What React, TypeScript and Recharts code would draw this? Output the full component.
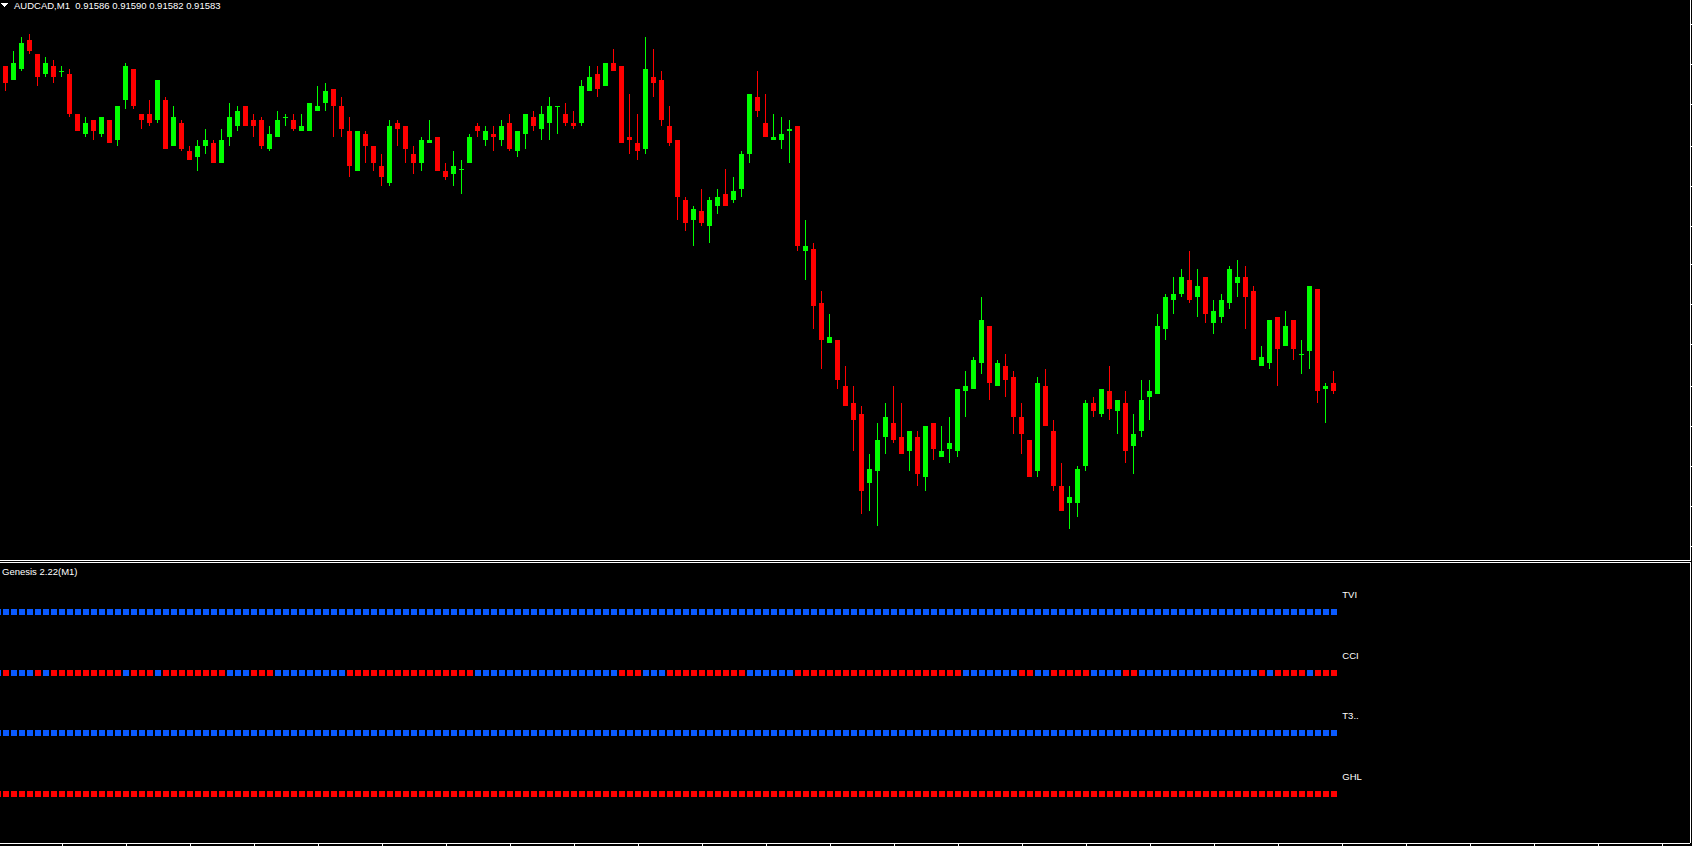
import React from 'react';
import { ComposedChart, Bar, Scatter, XAxis, YAxis } from 'recharts';

// ---- price data (AUDCAD M1), first bar index = -1 ----
const FIRST_INDEX = -1;
const OPEN = [
  0.91692, 0.91697, 0.91692, 0.91696, 0.91706, 0.91701, 0.91694, 0.91697, 0.91695, 0.91694,
  0.91680, 0.91673, 0.91678, 0.91673, 0.91678, 0.91671, 0.91685, 0.91696, 0.91680, 0.91680,
  0.91678, 0.91685, 0.91669, 0.91677, 0.91667, 0.91665, 0.91669, 0.91670, 0.91663, 0.91672,
  0.91676, 0.91683, 0.91678, 0.91678, 0.91668, 0.91672, 0.91679, 0.91678, 0.91674, 0.91674,
  0.91681, 0.91684, 0.91689, 0.91683, 0.91674, 0.91660, 0.91673, 0.91669, 0.91662, 0.91656,
  0.91677, 0.91676, 0.91666, 0.91663, 0.91670, 0.91672, 0.91660, 0.91659, 0.91661, 0.91663,
  0.91676, 0.91671, 0.91673, 0.91671, 0.91677, 0.91667, 0.91673, 0.91679, 0.91675, 0.91677,
  0.91683, 0.91680, 0.91677, 0.91677, 0.91688, 0.91694, 0.91690, 0.91698, 0.91697, 0.91672,
  0.91670, 0.91668, 0.91693, 0.91692, 0.91676, 0.91671, 0.91650, 0.91643, 0.91646, 0.91641,
  0.91648, 0.91652, 0.91650, 0.91654, 0.91666, 0.91686, 0.91677, 0.91671, 0.91671, 0.91674,
  0.91676, 0.91632, 0.91633, 0.91614, 0.91600, 0.91601, 0.91585, 0.91579, 0.91575, 0.91551,
  0.91555, 0.91567, 0.91572, 0.91567, 0.91562, 0.91567, 0.91553, 0.91572, 0.91560, 0.91563,
  0.91562, 0.91583, 0.91584, 0.91593, 0.91606, 0.91585, 0.91592, 0.91588, 0.91574, 0.91566,
  0.91555, 0.91585, 0.91569, 0.91550, 0.91544, 0.91544, 0.91557, 0.91579, 0.91575, 0.91583,
  0.91576, 0.91579, 0.91564, 0.91569, 0.91581, 0.91582, 0.91605, 0.91615, 0.91617, 0.91622,
  0.91616, 0.91623, 0.91607, 0.91609, 0.91614, 0.91621, 0.91623, 0.91618, 0.91592, 0.91593,
  0.91609, 0.91599, 0.91608, 0.91596, 0.91597, 0.91619, 0.91584, 0.91586,
];
const HIGH = [
  0.91698, 0.91697, 0.91702, 0.91707, 0.91708, 0.91701, 0.91700, 0.91699, 0.91697, 0.91696,
  0.91680, 0.91679, 0.91678, 0.91679, 0.91678, 0.91683, 0.91698, 0.91696, 0.91680, 0.91685,
  0.91692, 0.91686, 0.91683, 0.91678, 0.91669, 0.91671, 0.91675, 0.91671, 0.91675, 0.91684,
  0.91683, 0.91683, 0.91680, 0.91679, 0.91676, 0.91681, 0.91680, 0.91680, 0.91680, 0.91684,
  0.91690, 0.91691, 0.91689, 0.91686, 0.91679, 0.91674, 0.91674, 0.91669, 0.91666, 0.91678,
  0.91678, 0.91676, 0.91669, 0.91672, 0.91678, 0.91672, 0.91663, 0.91667, 0.91664, 0.91673,
  0.91677, 0.91676, 0.91676, 0.91678, 0.91680, 0.91674, 0.91680, 0.91681, 0.91683, 0.91686,
  0.91683, 0.91684, 0.91681, 0.91692, 0.91697, 0.91697, 0.91698, 0.91703, 0.91697, 0.91687,
  0.91680, 0.91707, 0.91703, 0.91695, 0.91683, 0.91671, 0.91651, 0.91648, 0.91654, 0.91651,
  0.91654, 0.91661, 0.91658, 0.91667, 0.91687, 0.91695, 0.91687, 0.91680, 0.91679, 0.91678,
  0.91676, 0.91643, 0.91635, 0.91618, 0.91610, 0.91601, 0.91592, 0.91585, 0.91578, 0.91561,
  0.91572, 0.91579, 0.91585, 0.91579, 0.91569, 0.91569, 0.91571, 0.91572, 0.91571, 0.91574,
  0.91584, 0.91590, 0.91595, 0.91616, 0.91606, 0.91594, 0.91596, 0.91590, 0.91579, 0.91566,
  0.91588, 0.91591, 0.91573, 0.91558, 0.91550, 0.91557, 0.91580, 0.91581, 0.91584, 0.91592,
  0.91580, 0.91583, 0.91575, 0.91587, 0.91587, 0.91610, 0.91617, 0.91623, 0.91626, 0.91632,
  0.91626, 0.91623, 0.91615, 0.91617, 0.91627, 0.91629, 0.91627, 0.91620, 0.91599, 0.91608,
  0.91609, 0.91611, 0.91608, 0.91601, 0.91620, 0.91619, 0.91586, 0.91590,
];
const LOW = [
  0.91692, 0.91688, 0.91692, 0.91695, 0.91701, 0.91690, 0.91693, 0.91691, 0.91693, 0.91679,
  0.91674, 0.91672, 0.91671, 0.91672, 0.91670, 0.91669, 0.91682, 0.91682, 0.91675, 0.91676,
  0.91677, 0.91668, 0.91669, 0.91667, 0.91664, 0.91660, 0.91666, 0.91663, 0.91663, 0.91669,
  0.91674, 0.91676, 0.91672, 0.91668, 0.91667, 0.91672, 0.91676, 0.91674, 0.91674, 0.91674,
  0.91681, 0.91681, 0.91672, 0.91672, 0.91658, 0.91660, 0.91663, 0.91660, 0.91655, 0.91655,
  0.91669, 0.91663, 0.91659, 0.91660, 0.91670, 0.91660, 0.91657, 0.91655, 0.91652, 0.91663,
  0.91672, 0.91669, 0.91667, 0.91669, 0.91667, 0.91665, 0.91668, 0.91674, 0.91671, 0.91671,
  0.91673, 0.91676, 0.91675, 0.91676, 0.91688, 0.91686, 0.91690, 0.91695, 0.91670, 0.91666,
  0.91664, 0.91666, 0.91686, 0.91676, 0.91669, 0.91643, 0.91639, 0.91634, 0.91641, 0.91635,
  0.91645, 0.91648, 0.91649, 0.91651, 0.91663, 0.91679, 0.91672, 0.91671, 0.91668, 0.91663,
  0.91632, 0.91622, 0.91605, 0.91591, 0.91600, 0.91584, 0.91578, 0.91562, 0.91540, 0.91541,
  0.91536, 0.91561, 0.91565, 0.91561, 0.91555, 0.91550, 0.91548, 0.91559, 0.91560, 0.91558,
  0.91560, 0.91574, 0.91584, 0.91589, 0.91580, 0.91585, 0.91581, 0.91568, 0.91561, 0.91553,
  0.91553, 0.91571, 0.91548, 0.91541, 0.91535, 0.91539, 0.91555, 0.91574, 0.91574, 0.91573,
  0.91568, 0.91558, 0.91554, 0.91567, 0.91573, 0.91582, 0.91601, 0.91610, 0.91616, 0.91614,
  0.91609, 0.91607, 0.91603, 0.91607, 0.91612, 0.91616, 0.91605, 0.91594, 0.91592, 0.91591,
  0.91585, 0.91599, 0.91594, 0.91589, 0.91591, 0.91579, 0.91572, 0.91582,
];
const CLOSE = [
  0.91698, 0.91691, 0.91698, 0.91705, 0.91702, 0.91693, 0.91698, 0.91693, 0.91695, 0.91680,
  0.91674, 0.91677, 0.91674, 0.91679, 0.91670, 0.91683, 0.91697, 0.91683, 0.91678, 0.91677,
  0.91692, 0.91668, 0.91679, 0.91668, 0.91664, 0.91669, 0.91671, 0.91663, 0.91671, 0.91679,
  0.91681, 0.91676, 0.91676, 0.91669, 0.91673, 0.91678, 0.91679, 0.91675, 0.91676, 0.91684,
  0.91683, 0.91688, 0.91683, 0.91675, 0.91662, 0.91674, 0.91669, 0.91663, 0.91658, 0.91676,
  0.91675, 0.91668, 0.91663, 0.91671, 0.91671, 0.91660, 0.91658, 0.91662, 0.91661, 0.91672,
  0.91674, 0.91674, 0.91672, 0.91676, 0.91668, 0.91674, 0.91680, 0.91676, 0.91680, 0.91683,
  0.91683, 0.91677, 0.91676, 0.91690, 0.91693, 0.91689, 0.91698, 0.91695, 0.91670, 0.91671,
  0.91667, 0.91696, 0.91691, 0.91678, 0.91670, 0.91651, 0.91642, 0.91647, 0.91642, 0.91650,
  0.91651, 0.91648, 0.91653, 0.91666, 0.91687, 0.91681, 0.91672, 0.91672, 0.91673, 0.91675,
  0.91634, 0.91634, 0.91613, 0.91601, 0.91602, 0.91587, 0.91578, 0.91573, 0.91548, 0.91556,
  0.91566, 0.91574, 0.91566, 0.91561, 0.91569, 0.91554, 0.91571, 0.91563, 0.91562, 0.91565,
  0.91584, 0.91585, 0.91594, 0.91608, 0.91586, 0.91593, 0.91587, 0.91574, 0.91568, 0.91553,
  0.91586, 0.91571, 0.91550, 0.91541, 0.91546, 0.91556, 0.91579, 0.91576, 0.91584, 0.91577,
  0.91580, 0.91562, 0.91568, 0.91580, 0.91583, 0.91606, 0.91616, 0.91617, 0.91623, 0.91615,
  0.91620, 0.91610, 0.91611, 0.91615, 0.91626, 0.91623, 0.91616, 0.91594, 0.91595, 0.91608,
  0.91598, 0.91606, 0.91598, 0.91596, 0.91620, 0.91583, 0.91585, 0.91583,
];

// ---- Genesis indicator signals (1 = up/blue, -1 = down/red) ----
const TVI = [
  1, 1, 1, 1, 1, 1, 1, 1, 1, 1, 1, 1, 1, 1, 1, 1, 1, 1, 1, 1, 1, 1, 1, 1,
  1, 1, 1, 1, 1, 1, 1, 1, 1, 1, 1, 1, 1, 1, 1, 1, 1, 1, 1, 1, 1, 1, 1, 1,
  1, 1, 1, 1, 1, 1, 1, 1, 1, 1, 1, 1, 1, 1, 1, 1, 1, 1, 1, 1, 1, 1, 1, 1,
  1, 1, 1, 1, 1, 1, 1, 1, 1, 1, 1, 1, 1, 1, 1, 1, 1, 1, 1, 1, 1, 1, 1, 1,
  1, 1, 1, 1, 1, 1, 1, 1, 1, 1, 1, 1, 1, 1, 1, 1, 1, 1, 1, 1, 1, 1, 1, 1,
  1, 1, 1, 1, 1, 1, 1, 1, 1, 1, 1, 1, 1, 1, 1, 1, 1, 1, 1, 1, 1, 1, 1, 1,
  1, 1, 1, 1, 1, 1, 1, 1, 1, 1, 1, 1, 1, 1, 1, 1, 1, 1, 1, 1, 1, 1, 1, 1,
];
const CCI = [
  1, -1, 1, 1, 1, -1, 1, -1, -1, -1, -1, -1, -1, -1, -1, -1, 1, -1, -1, -1, 1,
  -1, -1, -1, -1, -1, -1, -1, -1, 1, 1, 1, -1, -1, -1, 1, 1, 1, 1, 1, 1, 1, 1, 1,
  -1, -1, -1, -1, -1, -1, -1, -1, -1, -1, -1, -1, -1, -1, -1, -1,
  1, 1, 1, 1, 1, 1, 1, 1, 1, 1, 1, 1, 1, 1, 1, 1, 1, 1,
  -1, -1, -1, 1, 1, 1,
  -1, -1, -1, -1, -1, -1, -1, -1, -1, -1,
  1, 1, 1, 1, 1, 1,
  -1, -1, -1, -1, -1, -1, -1, -1, -1, -1, -1, -1, -1, -1, -1, -1, -1, -1, -1, -1, -1,
  1, 1, 1, 1, 1, 1, 1, -1, -1, 1, 1, -1, -1, -1, -1, -1, 1, 1, 1, 1, -1, -1,
  1, 1, 1, 1, 1, 1, 1, 1, 1, 1, 1, 1, 1, 1, 1,
  -1, 1, -1, -1, -1, -1, 1, -1, -1, -1,
];
const T3 = [
  1, 1, 1, 1, 1, 1, 1, 1, 1, 1, 1, 1, 1, 1, 1, 1, 1, 1, 1, 1, 1, 1, 1, 1,
  1, 1, 1, 1, 1, 1, 1, 1, 1, 1, 1, 1, 1, 1, 1, 1, 1, 1, 1, 1, 1, 1, 1, 1,
  1, 1, 1, 1, 1, 1, 1, 1, 1, 1, 1, 1, 1, 1, 1, 1, 1, 1, 1, 1, 1, 1, 1, 1,
  1, 1, 1, 1, 1, 1, 1, 1, 1, 1, 1, 1, 1, 1, 1, 1, 1, 1, 1, 1, 1, 1, 1, 1,
  1, 1, 1, 1, 1, 1, 1, 1, 1, 1, 1, 1, 1, 1, 1, 1, 1, 1, 1, 1, 1, 1, 1, 1,
  1, 1, 1, 1, 1, 1, 1, 1, 1, 1, 1, 1, 1, 1, 1, 1, 1, 1, 1, 1, 1, 1, 1, 1,
  1, 1, 1, 1, 1, 1, 1, 1, 1, 1, 1, 1, 1, 1, 1, 1, 1, 1, 1, 1, 1, 1, 1, 1,
];
const GHL = [
  -1, -1, -1, -1, -1, -1, -1, -1, -1, -1, -1, -1, -1, -1, -1, -1, -1, -1, -1, -1, -1, -1, -1, -1,
  -1, -1, -1, -1, -1, -1, -1, -1, -1, -1, -1, -1, -1, -1, -1, -1, -1, -1, -1, -1, -1, -1, -1, -1,
  -1, -1, -1, -1, -1, -1, -1, -1, -1, -1, -1, -1, -1, -1, -1, -1, -1, -1, -1, -1, -1, -1, -1, -1,
  -1, -1, -1, -1, -1, -1, -1, -1, -1, -1, -1, -1, -1, -1, -1, -1, -1, -1, -1, -1, -1, -1, -1, -1,
  -1, -1, -1, -1, -1, -1, -1, -1, -1, -1, -1, -1, -1, -1, -1, -1, -1, -1, -1, -1, -1, -1, -1, -1,
  -1, -1, -1, -1, -1, -1, -1, -1, -1, -1, -1, -1, -1, -1, -1, -1, -1, -1, -1, -1, -1, -1, -1, -1,
  -1, -1, -1, -1, -1, -1, -1, -1, -1, -1, -1, -1, -1, -1, -1, -1, -1, -1, -1, -1, -1, -1, -1, -1,
];
const ROW_NAMES = ['TVI', 'CCI', 'T3..', 'GHL'];
const ROW_LEVELS = [4, 3, 2, 1];
const LABEL_INDEX = 167;

const SYMBOL = 'AUDCAD,M1';
const INDICATOR_TITLE = 'Genesis 2.22(M1)';
const PRICE_TICKS = [0.917116, 0.916973, 0.916833, 0.916689, 0.916549, 0.916409, 0.916273,
  0.916133, 0.915993, 0.915849, 0.915709, 0.915566, 0.915426, 0.915286];
const TIME_TICKS = [7, 15, 23, 31, 39, 47, 55, 63, 71, 79, 87, 95, 103, 111, 119, 127, 135,
  143, 151, 159, 167, 175, 183, 191, 199, 207];

const BULL = '#00FF00';
const BEAR = '#FF0000';
const SIG_UP = '#0A5AFF';
const SIG_DOWN = '#FF0000';
const FONT = '"Liberation Sans", Arial, sans-serif';

const X_DOMAIN: [number, number] = [-0.7875, 210.4625];
const PRICE_DOMAIN: [number, number] = [0.91524, 0.9172];
const ROW_DOMAIN: [number, number] = [0.186, 4.826];

const candles = OPEN.map((o, j) => ({
  i: j + FIRST_INDEX,
  o,
  h: HIGH[j],
  l: LOW[j],
  c: CLOSE[j],
  range: [LOW[j], HIGH[j]],
}));

const rows = [TVI, CCI, T3, GHL].map((sig, r) =>
  sig.map((s, j) => ({ i: j + FIRST_INDEX, y: ROW_LEVELS[r], s }))
);
const labels = ROW_NAMES.map((name, r) => ({ i: LABEL_INDEX, y: ROW_LEVELS[r], name }));

function CandleShape(props: any) {
  const { x, y, width, height, payload } = props;
  if (x == null || y == null || !payload) return null;
  const { o, h, l, c } = payload;
  const top = Math.min(y, y + height);
  const span = Math.abs(height);
  const toY = (v: number) => top + ((h - v) / (h - l)) * span;
  const cx = x + width / 2;
  const color = c >= o ? BULL : BEAR;
  const yh = Math.round(toY(h));
  const yl = Math.round(toY(l));
  const yb1 = Math.round(toY(Math.max(o, c)));
  const yb2 = Math.round(toY(Math.min(o, c)));
  return (
    <g>
      <rect x={Math.floor(cx)} y={yh} width={1} height={Math.max(1, yl - yh)} fill={color} />
      <rect x={Math.round(cx - 2.5)} y={yb1} width={5} height={Math.max(1, yb2 - yb1)} fill={color} />
    </g>
  );
}

function SignalShape(props: any) {
  const { cx, cy, payload } = props;
  if (cx == null || cy == null) return null;
  return (
    <rect
      x={Math.round(cx) - 3}
      y={Math.round(cy) - 3}
      width={6}
      height={6}
      fill={payload.s > 0 ? SIG_UP : SIG_DOWN}
    />
  );
}

function LabelShape(props: any) {
  const { cx, cy, payload } = props;
  if (cx == null || cy == null) return null;
  return (
    <text x={cx} y={cy - 14} fill="#FFFFFF" fontSize={9.5} fontFamily={FONT}>
      {payload.name}
    </text>
  );
}

const NoTickLabel = () => <g />;

export default function App() {
  const last = candles[candles.length - 1];
  const header = `${SYMBOL}  ${last.o.toFixed(5)} ${last.h.toFixed(5)} ${last.l.toFixed(5)} ${last.c.toFixed(5)}`;
  return (
    <div
      style={{
        position: 'absolute',
        left: 0,
        top: 0,
        width: 1692,
        height: 846,
        background: '#000000',
        overflow: 'hidden',
        shapeRendering: 'crispEdges',
      }}
    >
      <div style={{ position: 'absolute', left: 0, top: 0 }}>
        <ComposedChart width={1692} height={560} data={candles} margin={{ top: 0, right: 0, bottom: 0, left: 0 }}>
          <XAxis dataKey="i" type="number" domain={X_DOMAIN} allowDataOverflow hide ticks={TIME_TICKS} />
          <YAxis
            orientation="right"
            width={2}
            type="number"
            domain={PRICE_DOMAIN}
            allowDataOverflow
            ticks={PRICE_TICKS}
            tick={NoTickLabel}
            tickSize={2}
            tickLine={{ stroke: '#FFFFFF' }}
            axisLine={{ stroke: '#FFFFFF' }}
          />
          <Bar dataKey="range" barSize={5} shape={CandleShape} isAnimationActive={false} />
        </ComposedChart>
      </div>
      <div style={{ position: 'absolute', left: 0, top: 560, width: 1691, height: 1, background: '#FFFFFF' }} />
      <div style={{ position: 'absolute', left: 0, top: 562, width: 1691, height: 1, background: '#FFFFFF' }} />
      <div style={{ position: 'absolute', left: 0, top: 562 }}>
        <ComposedChart width={1692} height={284} margin={{ top: 0, right: 0, bottom: 0, left: 0 }}>
          <XAxis
            dataKey="i"
            type="number"
            domain={X_DOMAIN}
            allowDataOverflow
            ticks={TIME_TICKS}
            height={3}
            tick={NoTickLabel}
            tickSize={3}
            tickLine={{ stroke: '#FFFFFF' }}
            axisLine={{ stroke: '#FFFFFF' }}
          />
          <YAxis
            dataKey="y"
            orientation="right"
            width={2}
            type="number"
            domain={ROW_DOMAIN}
            allowDataOverflow
            tick={false}
            tickLine={false}
            axisLine={{ stroke: '#FFFFFF' }}
          />
          {rows.map((d, r) => (
            <Scatter key={ROW_NAMES[r]} data={d} dataKey="y" shape={SignalShape} isAnimationActive={false} />
          ))}
          <Scatter data={labels} dataKey="y" shape={LabelShape} isAnimationActive={false} />
        </ComposedChart>
      </div>
      <svg
        width={1692}
        height={846}
        style={{ position: 'absolute', left: 0, top: 0, pointerEvents: 'none' }}
      >
        <polygon points="1,3 8,3 4.5,7" fill="#FFFFFF" />
        <text x={14} y={8.5} fill="#FFFFFF" fontSize={9.5} fontFamily={FONT} style={{ whiteSpace: 'pre' }}>
          {header}
        </text>
        <text x={2} y={575} fill="#FFFFFF" fontSize={9.5} fontFamily={FONT}>
          {INDICATOR_TITLE}
        </text>
      </svg>
    </div>
  );
}
